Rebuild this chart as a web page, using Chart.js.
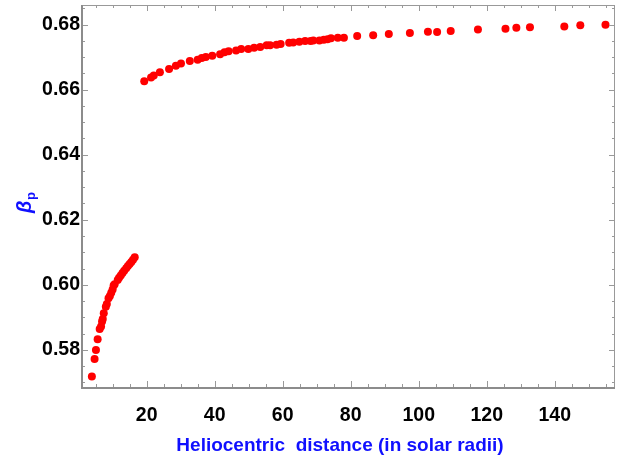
<!DOCTYPE html>
<html>
<head>
<meta charset="utf-8">
<title>Beta vs heliocentric distance</title>
<script src="https://cdn.jsdelivr.net/npm/chart.js@4/dist/chart.umd.min.js"></script>
<style>
    html, body { margin: 0; padding: 0; background: #fff; }
    canvas { display: block; }
</style>
</head>
<body>
<canvas id="beta" width="621" height="463"></canvas>
<script>
// heliocentric distance (solar radii) and beta, inner branch
const distInner = [3.9, 4.7, 5.1, 5.6, 6.2, 6.6, 6.9, 7.1, 7.4, 8.0, 8.3, 8.8, 9.2, 9.6, 10.0, 10.3, 10.6, 11.5, 11.9, 12.4, 12.9, 13.4, 14.0, 14.5, 15.0, 15.5, 16.0, 16.5];
const betaInner = [0.5718, 0.5772, 0.5800, 0.5833, 0.5864, 0.5872, 0.5887, 0.5895, 0.5913, 0.5933, 0.5941, 0.5959, 0.5966, 0.5976, 0.5986, 0.5998, 0.6002, 0.6015, 0.6022, 0.6029, 0.6036, 0.6043, 0.6051, 0.6058, 0.6064, 0.6070, 0.6077, 0.6085];

// outer branch
const distOuter = [19.3, 21.3, 22.1, 23.9, 26.6, 28.6, 30.1, 32.7, 35.0, 36.2, 37.4, 39.3, 41.6, 42.9, 44.1, 46.3, 47.8, 49.9, 51.6, 53.4, 55.3, 56.3, 58.2, 59.4, 61.9, 63.1, 64.9, 66.6, 68.2, 69.0, 70.8, 72.1, 73.2, 74.2, 76.2, 78.0, 81.9, 86.6, 91.2, 97.4, 102.7, 105.4, 109.4, 117.4, 125.5, 128.7, 132.7, 142.8, 147.5, 154.9];
const betaOuter = [0.6626, 0.6637, 0.6643, 0.6653, 0.6663, 0.6673, 0.6680, 0.6688, 0.6692, 0.6697, 0.6700, 0.6704, 0.6709, 0.6715, 0.6718, 0.6720, 0.6725, 0.6725, 0.6729, 0.6731, 0.6736, 0.6736, 0.6738, 0.6740, 0.6744, 0.6745, 0.6747, 0.6749, 0.6749, 0.6751, 0.6751, 0.6753, 0.6755, 0.6758, 0.6759, 0.6759, 0.6765, 0.6767, 0.6771, 0.6774, 0.6778, 0.6777, 0.6780, 0.6785, 0.6787, 0.6790, 0.6792, 0.6794, 0.6798, 0.6799];

const xTicks = [20, 40, 60, 80, 100, 120, 140];
const yTicks = [0.58, 0.60, 0.62, 0.64, 0.66, 0.68];

const xTitle = 'Heliocentric  distance (in solar radii)';

function puntos(xs, ys) {
    let out = [];
    for (let i = 0; i < xs.length; i++) {
        out.push({ x: xs[i], y: ys[i] });
    }
    return out;
}

// frame with inward major/minor ticks on all four sides, plus axis titles
const marco = {
    id: 'marco',
    afterDraw(chart) {
        const c = chart.ctx;
        const a = chart.chartArea;
        const sx = chart.scales.x;
        const sy = chart.scales.y;
        c.save();
        c.strokeStyle = '#999';
        c.lineWidth = 1;

        for (let v = 5; v <= sx.max; v += 5) {
            const px = Math.round(sx.getPixelForValue(v)) + 0.5;
            const len = v % 20 === 0 ? 6 : 3;
            c.beginPath();
            c.moveTo(px, a.bottom); c.lineTo(px, a.bottom - len);
            c.moveTo(px, a.top); c.lineTo(px, a.top + len);
            c.stroke();
        }
        for (let k = 114; k <= 137; k++) {
            const v = k * 0.005;
            if (v < sy.min || v > sy.max) continue;
            const py = Math.round(sy.getPixelForValue(v)) + 0.5;
            const len = k % 4 === 0 ? 6 : 3;
            c.beginPath();
            c.moveTo(a.left, py); c.lineTo(a.left + len, py);
            c.moveTo(a.right, py); c.lineTo(a.right - len, py);
            c.stroke();
        }

        c.strokeRect(a.left + 0.5, a.top + 0.5, a.right - a.left - 1, a.bottom - a.top);
        c.lineWidth = 2;
        c.strokeStyle = '#8c8c8c';
        c.beginPath();
        c.moveTo(a.left, a.top); c.lineTo(a.left, a.bottom + 1);
        c.lineTo(a.right, a.bottom + 1);
        c.stroke();

        // x title
        c.fillStyle = '#1010ff';
        c.font = 'bold 19px "Liberation Sans", Arial, sans-serif';
        c.textAlign = 'center';
        c.textBaseline = 'alphabetic';
        c.fillText(xTitle, 340, 451);

        // y title: beta with subscript p, rotated
        c.translate(31, 213);
        c.rotate(-Math.PI / 2);
        c.textAlign = 'left';
        c.font = 'italic bold 20px "Liberation Sans", Arial, sans-serif';
        c.fillText('β', 0, 0);
        const w = c.measureText('β').width;
        c.font = 'bold 13px "Liberation Sans", Arial, sans-serif';
        c.fillText('p', w + 0.5, 4);
        c.restore();
    }
};

function grafico() {
    const ctx = document.getElementById('beta');
    const fuente = { family: '"Liberation Sans", Arial, sans-serif', size: 19.5, weight: 'bold' };

    new Chart(ctx, {
        type: 'scatter',
        data: {
            datasets: [{
                data: puntos(distInner, betaInner),
                backgroundColor: '#ff0000',
                borderWidth: 0,
                pointRadius: 4
            }, {
                data: puntos(distOuter, betaOuter),
                backgroundColor: '#ff0000',
                borderWidth: 0,
                pointRadius: 4
            }]
        },
        options: {
            responsive: false,
            animation: false,
            layout: { padding: { top: 5, right: 6, left: 0, bottom: 0 } },
            plugins: {
                legend: { display: false },
                tooltip: { enabled: false }
            },
            scales: {
                x: {
                    type: 'linear',
                    min: 1,
                    max: 157.7,
                    grid: { display: false, drawTicks: false },
                    border: { display: false },
                    ticks: { color: '#000', font: fuente, padding: 17, maxRotation: 0 },
                    afterBuildTicks: function (scale) {
                        scale.ticks = xTicks.map(v => ({ value: v }));
                    },
                    afterFit: function (scale) {
                        scale.height = 76;
                        scale.paddingLeft = 0;
                        scale.paddingRight = 0;
                    }
                },
                y: {
                    type: 'linear',
                    min: 0.5686,
                    max: 0.686,
                    grid: { display: false, drawTicks: false },
                    border: { display: false },
                    ticks: {
                        color: '#000',
                        font: fuente,
                        padding: 2,
                        callback: v => v.toFixed(2)
                    },
                    afterBuildTicks: function (scale) {
                        scale.ticks = yTicks.map(v => ({ value: v }));
                    },
                    afterFit: function (scale) {
                        scale.width = 82;
                        scale.paddingTop = 0;
                        scale.paddingBottom = 0;
                    }
                }
            }
        },
        plugins: [marco]
    });
}

grafico();
</script>
</body>
</html>
